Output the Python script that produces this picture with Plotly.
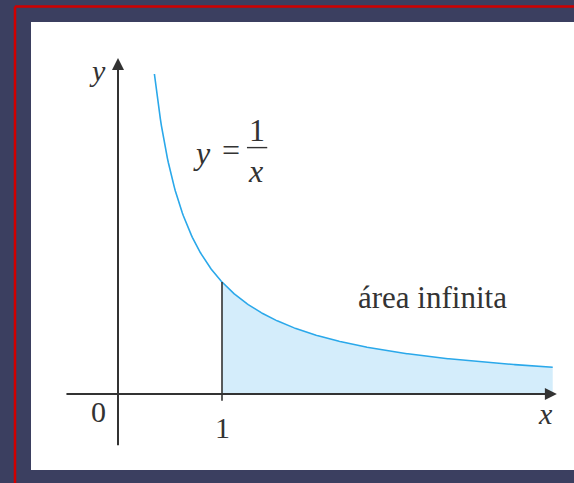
import numpy as np
import plotly.graph_objects as go

# Domain of the curve y = 1/x and the shaded region
X_START = 0.35
X_END = 4.18
AREA_FROM = 1.0

# Axis extents (data units)
X_AXIS = [-0.51, 4.22]
Y_AXIS = [-0.47, 3.0]

# Text labels
TICK_LABELS = ["0", "1"]
AXIS_LABELS = ["x", "y"]
AREA_LABEL = "área infinita"

W, H = 574, 483
# Pixel -> data mapping (plot area fills the whole page)
PX_X0, PX_UX = 118, 104
PX_Y0, PX_UY = 394, 112
x_range = [(0 - PX_X0) / PX_UX, (W - PX_X0) / PX_UX]
y_range = [(PX_Y0 - H) / PX_UY, (PX_Y0 - 0) / PX_UY]

x_curve = np.linspace(X_START, X_END, 400)
y_curve = 1 / x_curve
x_area = np.linspace(AREA_FROM, X_END, 300)
y_area = 1 / x_area

CURVE = "#2aa8ea"
FILL = "#d4edfb"
INK = "#333333"
SERIF = "'Liberation Serif', 'Times New Roman', 'DejaVu Serif', serif"

fig = go.Figure()
fig.add_trace(go.Scatter(x=x_area, y=y_area, mode="lines", line=dict(width=0),
                         fill="tozeroy", fillcolor=FILL, hoverinfo="skip"))
fig.add_trace(go.Scatter(x=x_curve, y=y_curve, mode="lines",
                         line=dict(color=CURVE, width=1.6), hoverinfo="skip"))

shapes = [
    # outer frame: page background, red rule, white panel
    dict(type="line", xref="paper", yref="paper", x0=15 / W, x1=1.01,
         y0=1 - 6.5 / H, y1=1 - 6.5 / H, line=dict(color="#d00000", width=2.5), layer="below"),
    dict(type="line", xref="paper", yref="paper", x0=15 / W, x1=15 / W,
         y0=1 - 6.5 / H, y1=-0.01, line=dict(color="#d00000", width=2.5), layer="below"),
    dict(type="rect", xref="paper", yref="paper", x0=31 / W, x1=1.01,
         y0=1 - 470 / H, y1=1 - 22 / H, fillcolor="white", line=dict(width=0), layer="below"),
    # vertical line at x = 1
    dict(type="line", x0=AREA_FROM, x1=AREA_FROM, y0=-0.06, y1=1 / AREA_FROM,
         line=dict(color=INK, width=1.6)),
    # fraction bar of the curve label
    dict(type="line", x0=1.24, x1=1.435, y0=2.2, y1=2.2, line=dict(color=INK, width=1.4)),
]

ann = []
# axes with arrowheads
ann.append(dict(x=X_AXIS[1], y=0, ax=X_AXIS[0], ay=0, xref="x", yref="y", axref="x", ayref="y",
                showarrow=True, arrowhead=2, arrowsize=1.2, arrowwidth=2, arrowcolor=INK, text=""))
ann.append(dict(x=0, y=Y_AXIS[1], ax=0, ay=Y_AXIS[0], xref="x", yref="y", axref="x", ayref="y",
                showarrow=True, arrowhead=2, arrowsize=1.2, arrowwidth=2, arrowcolor=INK, text=""))


def label(text, x, y, size=30):
    ann.append(dict(x=x, y=y, text=text, showarrow=False, xanchor="center", yanchor="middle",
                    font=dict(family=SERIF, size=size, color=INK)))


label(TICK_LABELS[0], -0.183, -0.16)
label(TICK_LABELS[1], 1.0, -0.295)
label("<i>%s</i>" % AXIS_LABELS[0], 4.115, -0.17)
label("<i>%s</i>" % AXIS_LABELS[1], -0.2, 2.89)
label("<i>y</i>", 0.808, 2.15, 32)
label("=", 1.087, 2.18, 32)
label("1", 1.337, 2.36, 32)
label("<i>x</i>", 1.325, 1.99, 32)
label(AREA_LABEL, 3.02, 0.86, 31)

fig.update_layout(
    width=W, height=H, margin=dict(l=0, r=0, t=0, b=0),
    paper_bgcolor="#3b3f60", plot_bgcolor="rgba(0,0,0,0)",
    showlegend=False, shapes=shapes, annotations=ann,
    xaxis=dict(range=x_range, visible=False, fixedrange=True),
    yaxis=dict(range=y_range, visible=False, fixedrange=True),
)
fig.write_html("out.html", config={"displayModeBar": False})
